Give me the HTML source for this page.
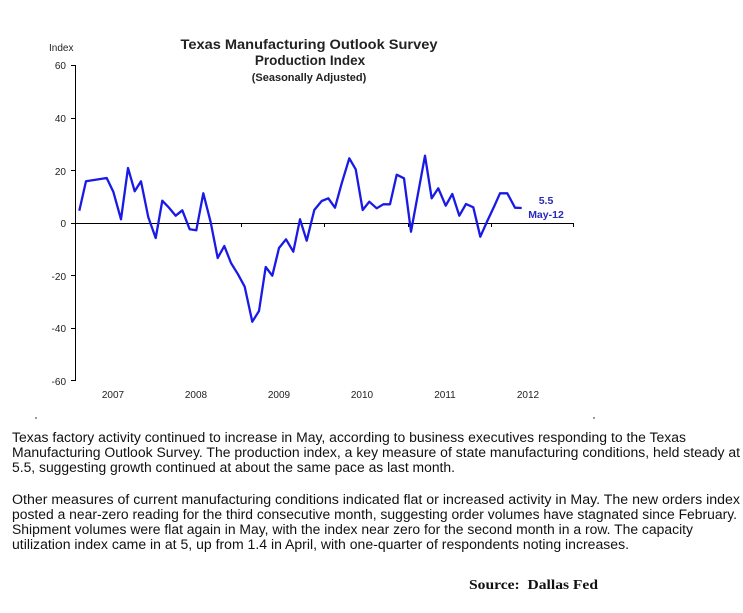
<!DOCTYPE html>
<html><head><meta charset="utf-8"><style>
html,body{margin:0;padding:0;background:#fff;}
svg{display:block;}
</style></head><body>
<svg width="743" height="613" viewBox="0 0 743 613" xmlns="http://www.w3.org/2000/svg">
<rect width="743" height="613" fill="#fff"/>
<g font-family="Liberation Sans, Arial, sans-serif" fill="#222">
<text x="309" y="49" text-anchor="middle" font-size="13.5" font-weight="bold" textLength="257" lengthAdjust="spacingAndGlyphs">Texas Manufacturing Outlook Survey</text>
<text x="310" y="65" text-anchor="middle" font-size="13.5" font-weight="bold">Production Index</text>
<text x="309" y="81" text-anchor="middle" font-size="11" font-weight="bold">(Seasonally Adjusted)</text>
<text x="49" y="51" font-size="10">Index</text>
<g font-size="10" text-anchor="end">
<text x="66" y="69">60</text>
<text x="66" y="122">40</text>
<text x="66" y="175">20</text>
<text x="66" y="227">0</text>
<text x="66" y="280">-20</text>
<text x="66" y="332">-40</text>
<text x="66" y="385">-60</text>
</g>
<g font-size="10" text-anchor="middle">
<text x="113" y="398">2007</text>
<text x="196" y="398">2008</text>
<text x="279" y="398">2009</text>
<text x="362" y="398">2010</text>
<text x="445" y="398">2011</text>
<text x="528" y="398">2012</text>
</g>
</g>
<g stroke="#000" stroke-width="1" fill="none">
<line x1="75.5" y1="65" x2="75.5" y2="381"/>
<line x1="71" y1="65.5" x2="75.5" y2="65.5"/>
<line x1="71" y1="118.5" x2="75.5" y2="118.5"/>
<line x1="71" y1="170.5" x2="75.5" y2="170.5"/>
<line x1="71" y1="223.5" x2="75.5" y2="223.5"/>
<line x1="71" y1="275.5" x2="75.5" y2="275.5"/>
<line x1="71" y1="328.5" x2="75.5" y2="328.5"/>
<line x1="71" y1="380.5" x2="75.5" y2="380.5"/>
<line x1="75" y1="223.5" x2="574" y2="223.5"/>
<line x1="158.5" y1="223" x2="158.5" y2="227"/>
<line x1="241.5" y1="223" x2="241.5" y2="227"/>
<line x1="324.5" y1="223" x2="324.5" y2="227"/>
<line x1="408.5" y1="223" x2="408.5" y2="227"/>
<line x1="491.5" y1="223" x2="491.5" y2="227"/>
<line x1="573.5" y1="223" x2="573.5" y2="227"/>
</g>
<polyline fill="none" stroke="#1a1ae6" stroke-width="2.3" stroke-linejoin="round" points="79.3,210.7 86,181.3 106.7,178 113.3,191.7 121,219.3 128,168 134.7,191.3 141,181.3 148.3,217.3 155.7,238 162.3,200.7 169,207.7 175.7,215.7 182.3,210.3 189.7,229.3 196.3,230.3 203.3,193.3 210.7,222.3 217.7,258 224.3,246 231,263 238,274.3 244.7,286.7 252.3,321.7 259,311 265.7,267 272.3,275.7 279,248 286,239.3 293.3,251.7 300,219.3 306.7,240.7 314.3,210 321.7,201 328.3,198.3 335,207.7 341.7,183.3 349.3,158.3 355.7,169.3 362.7,210 369.3,201.7 376.7,208.3 383.3,204.3 390,204.3 396.7,174.7 404,178.3 411,231.7 425,155.7 431.7,198.3 438.3,188.3 445.7,205.7 452.3,194 459.3,215.7 466,204 473.3,207.3 480.3,236.7 487.3,221 494,206.7 500,193.3 507.3,193.3 515,207.7 521.7,208"/>
<g font-family="Liberation Sans, Arial, sans-serif" font-size="10.5" font-weight="bold" fill="#2a2ab8" text-anchor="middle">
<text x="546" y="204">5.5</text>
<text x="546" y="218">May-12</text>
</g>
<circle cx="36" cy="418" r="0.7" fill="#000"/>
<circle cx="594" cy="418" r="0.7" fill="#000"/>
<g font-family="Liberation Sans, Arial, sans-serif" font-size="13.5" fill="#111">
<text x="12" y="442" textLength="674" lengthAdjust="spacingAndGlyphs">Texas factory activity continued to increase in May, according to business executives responding to the Texas</text>
<text x="12" y="457" textLength="728" lengthAdjust="spacingAndGlyphs">Manufacturing Outlook Survey. The production index, a key measure of state manufacturing conditions, held steady at</text>
<text x="12" y="472" textLength="443" lengthAdjust="spacingAndGlyphs">5.5, suggesting growth continued at about the same pace as last month.</text>
<text x="12" y="504" textLength="728" lengthAdjust="spacingAndGlyphs">Other measures of current manufacturing conditions indicated flat or increased activity in May. The new orders index</text>
<text x="12" y="519" textLength="725" lengthAdjust="spacingAndGlyphs">posted a near-zero reading for the third consecutive month, suggesting order volumes have stagnated since February.</text>
<text x="12" y="534" textLength="681" lengthAdjust="spacingAndGlyphs">Shipment volumes were flat again in May, with the index near zero for the second month in a row. The capacity</text>
<text x="12" y="549" textLength="617" lengthAdjust="spacingAndGlyphs">utilization index came in at 5, up from 1.4 in April, with one-quarter of respondents noting increases.</text>
</g>
<text x="469" y="589" font-family="Liberation Serif, serif" font-size="14" font-weight="bold" fill="#111" textLength="129" lengthAdjust="spacingAndGlyphs" xml:space="preserve">Source:  Dallas Fed</text>
</svg>
</body></html>
